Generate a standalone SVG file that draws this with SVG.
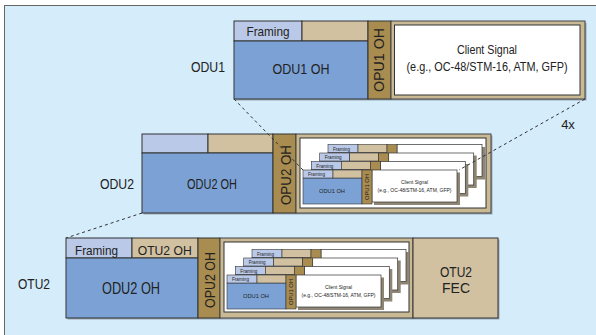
<svg xmlns="http://www.w3.org/2000/svg" width="596" height="335" viewBox="0 0 596 335">
<style>
text{font-family:"Liberation Sans",Arial,sans-serif;fill:#222}
.fr{fill:#bac9e7;stroke:#333;stroke-width:1}
.tn{fill:#d1c1a1;stroke:#333;stroke-width:1}
.bl{fill:#7ca2d5;stroke:#333;stroke-width:1}
.col{fill:#a98c50;stroke:#333;stroke-width:1}
.pl{fill:#c9b995;stroke:#444;stroke-width:1}
.wh{fill:#fff;stroke:#333;stroke-width:1}
.sh{fill:#97a7b3}
.sfr{fill:#bac9e7;stroke:#333;stroke-width:0.6}
.stn{fill:#d1c1a1;stroke:#333;stroke-width:0.6}
.sbl{fill:#7ca2d5;stroke:#333;stroke-width:0.6}
.scol{fill:#a98c50;stroke:#333;stroke-width:0.6}
.ssh{fill:#8e8574}
.swh{fill:#fff;stroke:#333;stroke-width:0.7}
.dash{fill:none;stroke:#333;stroke-width:1;stroke-dasharray:3 3}
.m{text-anchor:middle}
</style>
<defs>
<g id="sf">
<rect class="ssh" x="71" y="2.5" width="86" height="32.5"/>
<rect class="swh" x="69" y="0" width="85" height="32"/>
<rect class="sbl" x="0" y="8" width="59" height="26"/>
<rect class="sfr" x="0" y="0" width="30" height="8"/>
<rect class="stn" x="30" y="0" width="29" height="8"/>
<rect class="scol" x="59" y="0" width="10" height="34"/>
</g>
</defs>
<rect x="4.5" y="5.5" width="600" height="340" fill="#d5ecfa" stroke="#666" stroke-width="1"/>

<g id="label-odu1"><text x="208" y="72" font-size="15" class="m" textLength="34" lengthAdjust="spacingAndGlyphs">ODU1</text></g>
<g id="label-odu2"><text x="117" y="189" font-size="15" class="m" textLength="34" lengthAdjust="spacingAndGlyphs">ODU2</text></g>
<g id="label-otu2"><text x="34" y="288.5" font-size="15" class="m" textLength="32" lengthAdjust="spacingAndGlyphs">OTU2</text></g>
<g id="label-4x"><text x="568" y="129" font-size="13" class="m">4x</text></g>

<g id="odu1">
<rect class="sh" x="235.5" y="22.5" width="351" height="78"/>
<rect class="fr" x="234" y="21" width="68" height="20"/>
<rect class="tn" x="302" y="21" width="66" height="20"/>
<rect class="bl" x="234" y="41" width="134" height="58"/>
<rect class="col" x="368" y="21" width="23" height="78"/>
<rect class="pl" x="391" y="21" width="194" height="78"/>
<rect class="wh" x="394.5" y="25" width="185.5" height="70"/>
<text x="268" y="35.5" font-size="13" class="m" textLength="43" lengthAdjust="spacingAndGlyphs">Framing</text>
<text x="301" y="74" font-size="14" class="m" textLength="57" lengthAdjust="spacingAndGlyphs">ODU1 OH</text>
<text transform="translate(384,60) rotate(-90)" font-size="15" class="m" textLength="64" lengthAdjust="spacingAndGlyphs">OPU1 OH</text>
<text x="487" y="53.5" font-size="12" class="m" textLength="60" lengthAdjust="spacingAndGlyphs">Client Signal</text>
<text x="487" y="71" font-size="12" class="m" textLength="161" lengthAdjust="spacingAndGlyphs">(e.g., OC-48/STM-16, ATM, GFP)</text>
</g>

<g id="odu2">
<rect class="sh" x="143.5" y="135.5" width="349" height="79"/>
<rect class="fr" x="142" y="134" width="66" height="19"/>
<rect class="tn" x="208" y="134" width="65" height="19"/>
<rect class="bl" x="142" y="153" width="131" height="60"/>
<rect class="col" x="273" y="134" width="23" height="79"/>
<rect class="pl" x="296" y="134" width="195" height="79"/>
<rect class="wh" x="300" y="138" width="186" height="70"/>
<text x="212" y="188.5" font-size="15" class="m" textLength="50" lengthAdjust="spacingAndGlyphs">ODU2 OH</text>
<text transform="translate(291,175) rotate(-90)" font-size="15" class="m" textLength="60" lengthAdjust="spacingAndGlyphs">OPU2 OH</text>
<g transform="translate(328,144.5)"><use href="#sf"/><text x="13.5" y="6" font-size="5.5" class="m" textLength="17" lengthAdjust="spacingAndGlyphs">Framing</text></g>
<g transform="translate(319.7,153)"><use href="#sf"/><text x="13.5" y="6" font-size="5.5" class="m" textLength="17" lengthAdjust="spacingAndGlyphs">Framing</text></g>
<g transform="translate(311.3,161.5)"><use href="#sf"/><text x="13.5" y="6" font-size="5.5" class="m" textLength="17" lengthAdjust="spacingAndGlyphs">Framing</text></g>
<g transform="translate(303,170)"><use href="#sf"/>
<text x="13.5" y="6" font-size="5.5" class="m" textLength="17" lengthAdjust="spacingAndGlyphs">Framing</text>
<text x="29" y="23" font-size="6" class="m" textLength="26" lengthAdjust="spacingAndGlyphs">ODU1 OH</text>
<text transform="translate(66,17) rotate(-90)" font-size="5.5" class="m" textLength="26" lengthAdjust="spacingAndGlyphs">OPU1 OH</text>
<text x="111.5" y="14" font-size="5" class="m" textLength="27" lengthAdjust="spacingAndGlyphs">Client Signal</text>
<text x="111.5" y="21.5" font-size="5" class="m" textLength="74" lengthAdjust="spacingAndGlyphs">(e.g., OC-48/STM-16, ATM, GFP)</text>
</g>
</g>

<g id="otu2">
<rect class="sh" x="67.5" y="239.5" width="432" height="80"/>
<rect class="fr" x="66" y="238" width="66" height="20"/>
<rect class="tn" x="132" y="238" width="66" height="20"/>
<rect class="bl" x="66" y="258" width="132" height="60"/>
<rect class="col" x="198" y="238" width="22" height="80"/>
<rect class="pl" x="220" y="238" width="193" height="80"/>
<rect class="wh" x="224" y="242" width="185" height="70"/>
<rect class="tn" x="413" y="238" width="85" height="80"/>
<text x="96.5" y="255" font-size="13" class="m" textLength="43" lengthAdjust="spacingAndGlyphs">Framing</text>
<text x="164.7" y="255" font-size="13" class="m" textLength="54" lengthAdjust="spacingAndGlyphs">OTU2 OH</text>
<text x="131" y="293.5" font-size="16" class="m" textLength="58" lengthAdjust="spacingAndGlyphs">ODU2 OH</text>
<text transform="translate(215,280) rotate(-90)" font-size="15" class="m" textLength="56" lengthAdjust="spacingAndGlyphs">OPU2 OH</text>
<text x="456" y="277" font-size="14" class="m" textLength="32" lengthAdjust="spacingAndGlyphs">OTU2</text>
<text x="456" y="293" font-size="14" class="m">FEC</text>
<g transform="translate(252,249.5)"><use href="#sf"/><text x="13.5" y="6" font-size="5.5" class="m" textLength="17" lengthAdjust="spacingAndGlyphs">Framing</text></g>
<g transform="translate(243.7,258)"><use href="#sf"/><text x="13.5" y="6" font-size="5.5" class="m" textLength="17" lengthAdjust="spacingAndGlyphs">Framing</text></g>
<g transform="translate(235.3,266.5)"><use href="#sf"/><text x="13.5" y="6" font-size="5.5" class="m" textLength="17" lengthAdjust="spacingAndGlyphs">Framing</text></g>
<g transform="translate(227,275)"><use href="#sf"/>
<text x="13.5" y="6" font-size="5.5" class="m" textLength="17" lengthAdjust="spacingAndGlyphs">Framing</text>
<text x="29" y="23" font-size="6" class="m" textLength="26" lengthAdjust="spacingAndGlyphs">ODU1 OH</text>
<text transform="translate(66,17) rotate(-90)" font-size="5.5" class="m" textLength="26" lengthAdjust="spacingAndGlyphs">OPU1 OH</text>
<text x="111.5" y="14" font-size="5" class="m" textLength="27" lengthAdjust="spacingAndGlyphs">Client Signal</text>
<text x="111.5" y="21.5" font-size="5" class="m" textLength="74" lengthAdjust="spacingAndGlyphs">(e.g., OC-48/STM-16, ATM, GFP)</text>
</g>
</g>

<g id="connectors">
<line class="dash" x1="234" y1="99" x2="303" y2="170"/>
<line class="dash" x1="585" y1="99" x2="459" y2="170"/>
<line class="dash" x1="142" y1="213" x2="66" y2="238"/>
</g>
</svg>
